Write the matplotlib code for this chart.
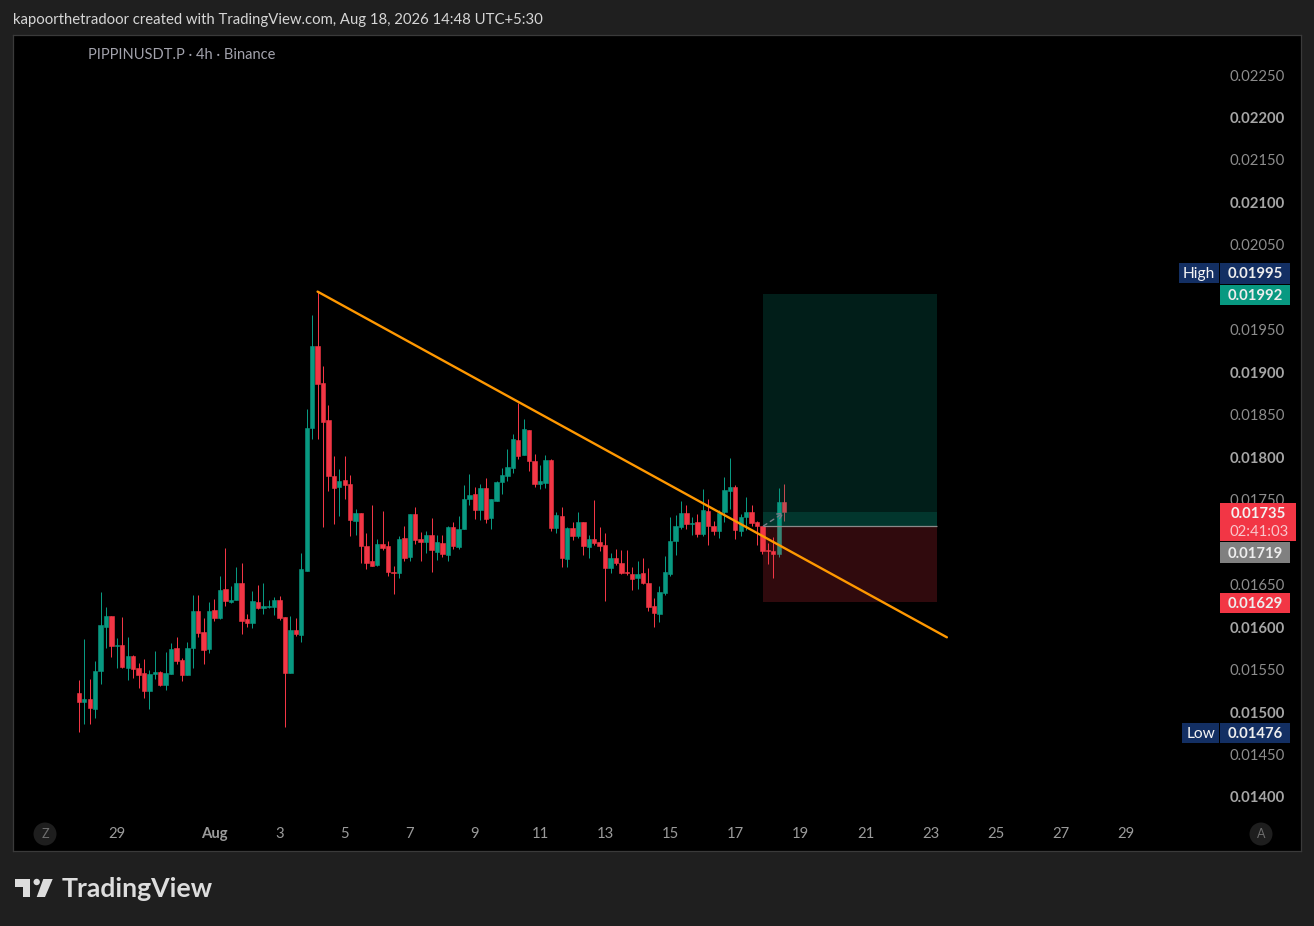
import numpy as np
import pandas as pd
import matplotlib
matplotlib.use('Agg')

import matplotlib.pyplot as plt
import matplotlib.dates as mdates
from matplotlib.patches import Circle, Polygon, Rectangle

# OHLC of the 4h bars, in units of 0.00001 USDT
opens = [1522, 1512, 1515, 1504, 1548, 1600, 1613, 1578, 1579, 1552, 1566, 1552, 1546, 1525, 1545, 1547,
         1532, 1545, 1575, 1561, 1544, 1575, 1619, 1594, 1574, 1620, 1611, 1645, 1629, 1632, 1652, 1610,
         1605, 1629, 1622, 1624, 1624, 1632, 1612, 1546, 1597, 1591, 1666, 1834, 1931, 1887, 1844, 1778,
         1765, 1773, 1768, 1725, 1734, 1696, 1678, 1673, 1698, 1695, 1665, 1664, 1705, 1682, 1733, 1704,
         1700, 1708, 1689, 1699, 1685, 1718, 1694, 1716, 1751, 1757, 1738, 1764, 1728, 1749, 1771, 1778,
         1787, 1820, 1803, 1832, 1796, 1768, 1770, 1797, 1717, 1731, 1680, 1717, 1707, 1724, 1694, 1704,
         1700, 1697, 1670, 1681, 1675, 1665, 1662, 1658, 1664, 1652, 1625, 1615, 1640, 1662, 1701, 1718,
         1734, 1721, 1724, 1710, 1737, 1719, 1713, 1735, 1760, 1765, 1713, 1730, 1735, 1724, 1719, 1691,
         1690, 1686, 1747]
highs = [1538, 1586, 1539, 1560, 1641, 1624, 1613, 1587, 1612, 1588, 1567, 1558, 1562, 1549, 1572, 1548,
         1571, 1581, 1588, 1564, 1582, 1638, 1638, 1611, 1629, 1633, 1660, 1693, 1648, 1671, 1675, 1615,
         1642, 1650, 1652, 1632, 1635, 1637, 1612, 1613, 1611, 1687, 1857, 1968, 1995, 1907, 1862, 1802,
         1786, 1802, 1779, 1739, 1734, 1711, 1744, 1704, 1737, 1701, 1672, 1707, 1719, 1733, 1742, 1712,
         1713, 1728, 1708, 1709, 1719, 1724, 1731, 1767, 1780, 1765, 1769, 1775, 1751, 1772, 1787, 1810,
         1827, 1864, 1845, 1832, 1804, 1791, 1803, 1798, 1735, 1741, 1718, 1724, 1735, 1724, 1708, 1750,
         1718, 1711, 1687, 1692, 1691, 1691, 1671, 1678, 1681, 1670, 1634, 1648, 1684, 1730, 1732, 1748,
         1744, 1730, 1733, 1763, 1751, 1725, 1738, 1777, 1799, 1767, 1733, 1753, 1744, 1725, 1719, 1699,
         1706, 1764, 1768]
lows = [1476, 1486, 1486, 1493, 1533, 1575, 1565, 1552, 1552, 1538, 1540, 1528, 1517, 1504, 1539, 1531,
        1526, 1545, 1557, 1537, 1544, 1552, 1588, 1557, 1569, 1607, 1610, 1625, 1628, 1632, 1592, 1600,
        1599, 1621, 1615, 1622, 1614, 1608, 1482, 1546, 1589, 1582, 1666, 1821, 1821, 1718, 1760, 1721,
        1731, 1751, 1707, 1709, 1675, 1669, 1672, 1672, 1691, 1660, 1639, 1658, 1678, 1678, 1698, 1678,
        1687, 1665, 1679, 1682, 1678, 1692, 1692, 1715, 1744, 1727, 1726, 1722, 1716, 1748, 1757, 1772,
        1781, 1798, 1803, 1784, 1765, 1763, 1764, 1713, 1711, 1671, 1671, 1703, 1705, 1685, 1681, 1697,
        1690, 1631, 1664, 1673, 1662, 1661, 1644, 1645, 1651, 1619, 1600, 1606, 1638, 1660, 1685, 1715,
        1715, 1708, 1706, 1707, 1697, 1708, 1705, 1724, 1739, 1704, 1707, 1714, 1719, 1697, 1686, 1674,
        1658, 1682, 1725]
closes = [1512, 1515, 1505, 1548, 1602, 1613, 1578, 1579, 1553, 1566, 1551, 1544, 1525, 1545, 1547, 1532,
          1546, 1574, 1560, 1544, 1575, 1619, 1593, 1573, 1619, 1611, 1644, 1631, 1632, 1652, 1607, 1605,
          1631, 1622, 1625, 1625, 1632, 1611, 1546, 1597, 1592, 1668, 1835, 1931, 1886, 1842, 1778, 1764,
          1772, 1767, 1726, 1734, 1695, 1676, 1672, 1698, 1693, 1665, 1664, 1704, 1681, 1733, 1702, 1700,
          1708, 1691, 1700, 1686, 1718, 1695, 1716, 1751, 1755, 1738, 1764, 1727, 1751, 1771, 1779, 1788,
          1821, 1802, 1833, 1796, 1768, 1772, 1797, 1717, 1732, 1681, 1717, 1707, 1724, 1695, 1704, 1699,
          1695, 1670, 1681, 1675, 1664, 1664, 1657, 1662, 1652, 1624, 1617, 1641, 1665, 1701, 1719, 1734,
          1721, 1722, 1710, 1738, 1719, 1713, 1734, 1761, 1765, 1714, 1730, 1735, 1722, 1719, 1690, 1690,
          1686, 1747, 1735]

first_bar = "2026-07-27 20:00"
bar_hours = 4

# 0.01700 and 0.02000 sit fully behind the price tags in the reference
price_ticks = [0.01400, 0.01450, 0.01500, 0.01550, 0.01600, 0.01650, 0.01750, 0.01800,
               0.01850, 0.01900, 0.01950, 0.02050, 0.02100, 0.02150, 0.02200, 0.02250]
date_ticks = ["2026-07-29", "2026-08-01", "2026-08-03", "2026-08-05", "2026-08-07", "2026-08-09",
              "2026-08-11", "2026-08-13", "2026-08-15", "2026-08-17", "2026-08-19", "2026-08-21",
              "2026-08-23", "2026-08-25", "2026-08-27", "2026-08-29"]
date_labels = ["29", "Aug", "3", "5", "7", "9", "11", "13", "15", "17", "19", "21", "23", "25", "27", "29"]

# long position drawing
entry = 0.01719
target = 0.01992
stop = 0.01629
last_price = 0.01735
pos_start = "2026-08-17 20:40"
pos_end = "2026-08-23 04:40"

# trend line
trend_times = ["2026-08-04 04:00", "2026-08-23 12:00"]
trend_prices = [0.01995, 0.01588]

UP = "#089981"
DOWN = "#F23645"
BG = "#1F1F1F"
FONT = "Lato"
SIZE = 10.7

plt.rcParams['font.family'] = FONT

W, H = 1314, 926
fig = plt.figure(figsize=(W / 100, H / 100), dpi=100, facecolor=BG)
ax = fig.add_axes([13 / W, (H - 851) / H, 1288 / W, 816 / H], facecolor="black")

o = np.array(opens) * 1e-5
h = np.array(highs) * 1e-5
l = np.array(lows) * 1e-5
c = np.array(closes) * 1e-5
times = pd.date_range(first_bar, periods=len(o), freq=f"{bar_hours}h")
x = mdates.date2num(times)
colors = [UP if cl >= op else DOWN for op, cl in zip(o, c)]

ax.vlines(x, l, h, colors=colors, linewidth=0.72, zorder=2)
ax.bar(x, np.abs(c - o), bottom=np.minimum(o, c), width=0.135, color=colors,
       edgecolor=colors, linewidth=0.4, zorder=3)

# price scale: 84940 px per 1.0, x scale: 32.55 px per day
aug1 = mdates.date2num(pd.Timestamp("2026-08-01"))
ax.set_xlim(aug1 + (13 - 214.5) / 32.55, aug1 + (1301 - 214.5) / 32.55)
ax.set_ylim(0.014 - (851 - 797) / 84940, 0.014 + (797 - 35) / 84940)

p0, p1 = mdates.date2num(pd.Timestamp(pos_start)), mdates.date2num(pd.Timestamp(pos_end))
ax.fill_between([p0, p1], entry, target, color=UP, alpha=0.2, lw=0, zorder=4)
ax.fill_between([p0, p1], entry, last_price, color=UP, alpha=0.2, lw=0, zorder=4)
ax.fill_between([p0, p1], stop, entry, color=DOWN, alpha=0.2, lw=0, zorder=4)
ax.hlines(entry, p0, p1, color="#8a8a8a", linewidth=0.9, zorder=5)
ax.annotate("", xy=(x[-1], last_price), xytext=(p0, entry), zorder=5,
            arrowprops=dict(arrowstyle="->", color="#787B86", linestyle=(0, (3, 3)), lw=1,
                            shrinkA=0, shrinkB=0))

ax.plot(mdates.date2num(pd.to_datetime(trend_times)), trend_prices, color="#FF9800",
        linewidth=1.7, solid_capstyle="round", zorder=6)

ax.set_xticks(mdates.date2num(pd.to_datetime(date_ticks)), date_labels)
ax.yaxis.tick_right()
ax.set_yticks(price_ticks, [f"{p:.5f}" for p in price_ticks])
ax.tick_params(axis="x", length=0, pad=-17.0, labelsize=SIZE, labelcolor="#9A9A9A")
ax.tick_params(axis="y", length=0, pad=-51.5, labelsize=SIZE, labelcolor="#8C8C8C")
for lab, txt in zip(ax.get_xticklabels(), date_labels):
    if txt == "Aug":
        lab.set_fontweight("bold")
for lab, p in zip(ax.get_yticklabels(), price_ticks):
    lab.set_verticalalignment("center_baseline")
    if abs(p * 1000 - round(p * 1000)) < 1e-6:
        lab.set_fontweight("bold")
        lab.set_color("#A6A6A6")
for sp in ax.spines.values():
    sp.set_color("#3A3A3A")
    sp.set_linewidth(0.9)

# page furniture in pixel coordinates
page = fig.add_axes([0, 0, 1, 1], zorder=5)
page.set_xlim(0, W)
page.set_ylim(H, 0)
page.axis("off")


def tag(x0, x1, y0, y1, label, fill, color="#EDEDED", size=SIZE, weight="bold"):
    page.add_patch(Rectangle((x0, y0), x1 - x0, y1 - y0, facecolor=fill, edgecolor="none"))
    page.text((x0 + x1) / 2, (y0 + y1) / 2 + 1, label, color=color, fontsize=size, fontweight=weight,
              ha="center", va="center")


page.text(13, 20, "kapoorthetradoor created with TradingView.com, Aug 18, 2026 14:48 UTC+5:30",
          color="#D6D6D6", fontsize=10.76, va="center")
page.text(88, 55, "PIPPINUSDT.P · 4h · Binance", color="#A3A3AD", fontsize=10.55, va="center")

tag(1179, 1219, 263, 283, "High", "#132F63", color="#F5F5F5", size=11.2, weight="normal")
tag(1220, 1290, 263, 284, "0.01995", "#132F63")
tag(1220, 1290, 285, 305, "0.01992", UP)
tag(1220, 1296, 503, 541, "", DOWN)
page.text(1258, 514, "0.01735", color="#F2F2F2", fontsize=SIZE, fontweight="bold", ha="center", va="center")
page.text(1259, 532, "02:41:03", color="#F9C6CB", fontsize=SIZE, ha="center", va="center")
tag(1220, 1290, 542, 563, "0.01719", "#808080")
tag(1220, 1290, 593, 613, "0.01629", DOWN)
tag(1182, 1219, 723, 743, "Low", "#132F63", color="#F5F5F5", size=11.2, weight="normal")
tag(1220, 1290, 723, 743, "0.01476", "#132F63")

for cx, cy, letter in [(45, 834, "Z"), (1261, 834, "A")]:
    page.add_patch(Circle((cx, cy), 11.5, facecolor="#1E1E1E", edgecolor="none"))
    page.text(cx, cy, letter, color="#6E6E6E", fontsize=9, ha="center", va="center")

logo = "#DDDDDD"
page.add_patch(Polygon([(15, 879), (30, 879), (30, 897), (23, 897), (23, 887), (15, 887)], facecolor=logo, edgecolor="none"))
page.add_patch(Circle((36.7, 882), 3.2, facecolor=logo, edgecolor="none"))
page.add_patch(Polygon([(43.3, 879), (52.7, 879), (45, 897), (36.7, 897)], facecolor=logo, edgecolor="none"))
page.text(62, 889, "TradingView", color=logo, fontsize=19.2, fontweight="bold", family="Lato", va="center")

fig.savefig("out.png", dpi=100, facecolor=BG)
plt.close(fig)
